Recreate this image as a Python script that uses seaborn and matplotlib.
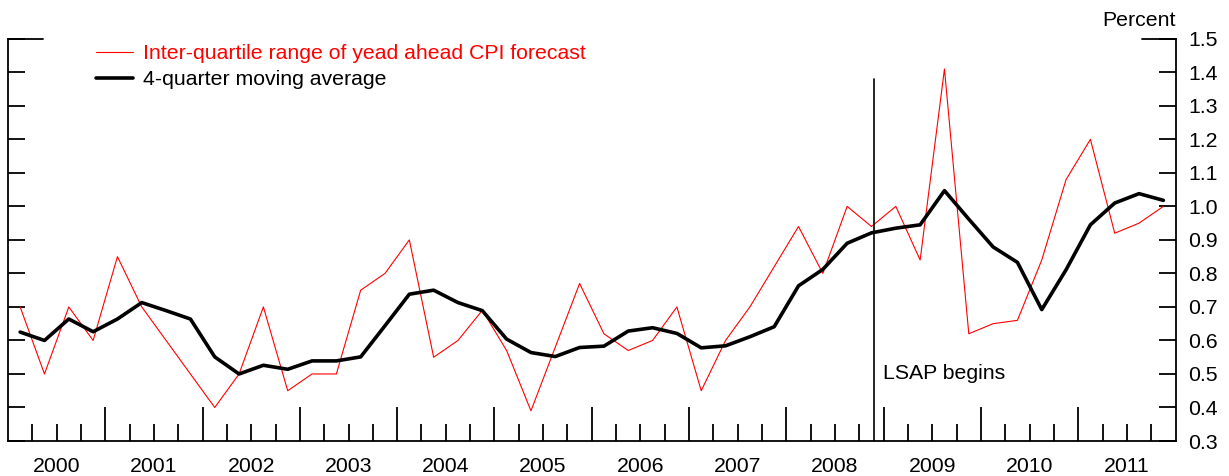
import numpy as np
import pandas as pd
import seaborn as sns
import matplotlib.pyplot as plt

# quarterly data, 2000Q1 .. 2011Q4
quarters = pd.period_range("2000Q1", "2011Q4", freq="Q")
iqr_cpi = [0.70, 0.50, 0.70, 0.60, 0.85, 0.70, 0.60, 0.50, 0.40, 0.50, 0.70, 0.45,
           0.50, 0.50, 0.75, 0.80, 0.90, 0.55, 0.60, 0.69, 0.57, 0.39, 0.58, 0.77,
           0.62, 0.57, 0.60, 0.70, 0.45, 0.60, 0.70, 0.82, 0.94, 0.80, 1.00, 0.94,
           1.00, 0.84, 1.41, 0.62, 0.65, 0.66, 0.84, 1.08, 1.20, 0.92, 0.95, 1.00]
moving_avg = [0.625, 0.60, 0.664, 0.626, 0.664, 0.713, 0.689, 0.664, 0.551, 0.50, 0.526, 0.514,
              0.539, 0.539, 0.551, 0.644, 0.738, 0.75, 0.713, 0.689, 0.604, 0.564, 0.552, 0.579,
              0.583, 0.628, 0.638, 0.621, 0.578, 0.584, 0.611, 0.641, 0.763, 0.812, 0.890, 0.921,
              0.935, 0.945, 1.047, 0.962, 0.879, 0.833, 0.692, 0.811, 0.945, 1.010, 1.038, 1.018]
years = list(range(2000, 2012))
lsap_date = 2008.9

label_iqr = "Inter-quartile range of yead ahead CPI forecast"
label_ma = "4-quarter moving average"

# mid-quarter positions in decimal years
x_pos = quarters.year + (quarters.quarter - 0.5) / 4
df = pd.DataFrame({"t": x_pos, label_iqr: iqr_cpi, label_ma: moving_avg})

sns.set_style("white")
plt.rcParams["font.family"] = ["Liberation Sans", "DejaVu Sans"]
plt.rcParams["text.color"] = "black"
plt.rcParams["xtick.color"] = "black"
plt.rcParams["ytick.color"] = "black"
fs = 15.3

fig = plt.figure(figsize=(12.29, 4.76), dpi=100)
ax = fig.add_axes([0.0065, 0.0735, 0.95, 0.845])

sns.lineplot(data=df, x="t", y=label_iqr, color="#ff0000", linewidth=0.8, ax=ax, label=label_iqr)
sns.lineplot(data=df, x="t", y=label_ma, color="black", linewidth=2.6, ax=ax, label=label_ma)

ax.axvline(lsap_date, ymin=0, ymax=(1.38 - 0.3) / 1.2, color="black", linewidth=1.2)
ax.text(lsap_date + 0.09, 0.5, "LSAP begins", fontsize=fs, va="center", ha="left")

ax.set_xlim(2000, 2012)
ax.set_ylim(0.3, 1.5)
ax.set_xlabel("")
ax.set_ylabel("")

for side in ["left", "right", "bottom"]:
    ax.spines[side].set_visible(True)
    ax.spines[side].set_color("black")
    ax.spines[side].set_linewidth(1.3)
ax.spines["top"].set_visible(False)

# short stubs at the top
ax.plot([0, 0.03], [1, 1], transform=ax.transAxes, color="black", lw=1.3, clip_on=False)
ax.plot([0.971, 1], [1, 1], transform=ax.transAxes, color="black", lw=1.3, clip_on=False)

ax.set_yticks(np.round(np.arange(0.3, 1.51, 0.1), 1))
ax.set_yticklabels([f"{v:.1f}" for v in np.arange(0.3, 1.51, 0.1)])
ax.tick_params(axis="y", left=True, right=True, labelleft=False, labelright=True,
               direction="in", length=12.5, width=1.3, pad=9, labelsize=fs, colors="black")

ax.set_xticks(years[1:])
ax.set_xticks([y + q / 4 for y in years for q in (1, 2, 3)], minor=True)
ax.tick_params(axis="x", which="major", direction="in", length=24.5, width=1.3,
               labelbottom=False, bottom=True)
ax.tick_params(axis="x", which="minor", direction="in", length=12, width=1.3, bottom=True)

for y in years:
    ax.text(y + 0.5, -0.064, str(y), transform=ax.get_xaxis_transform(),
            ha="center", va="center", fontsize=fs)

ax.text(1.0, 1.046, "Percent", transform=ax.transAxes, ha="right", va="center", fontsize=fs)

leg = ax.legend(loc="upper left", bbox_to_anchor=(0.075, 0.987), frameon=False, fontsize=fs,
                handlelength=1.75, handletextpad=0.5, labelspacing=0.35, borderpad=0,
                borderaxespad=0)
leg.get_texts()[0].set_color("#ff0000")
leg.get_texts()[1].set_color("black")

fig.savefig("out.png", dpi=100)
